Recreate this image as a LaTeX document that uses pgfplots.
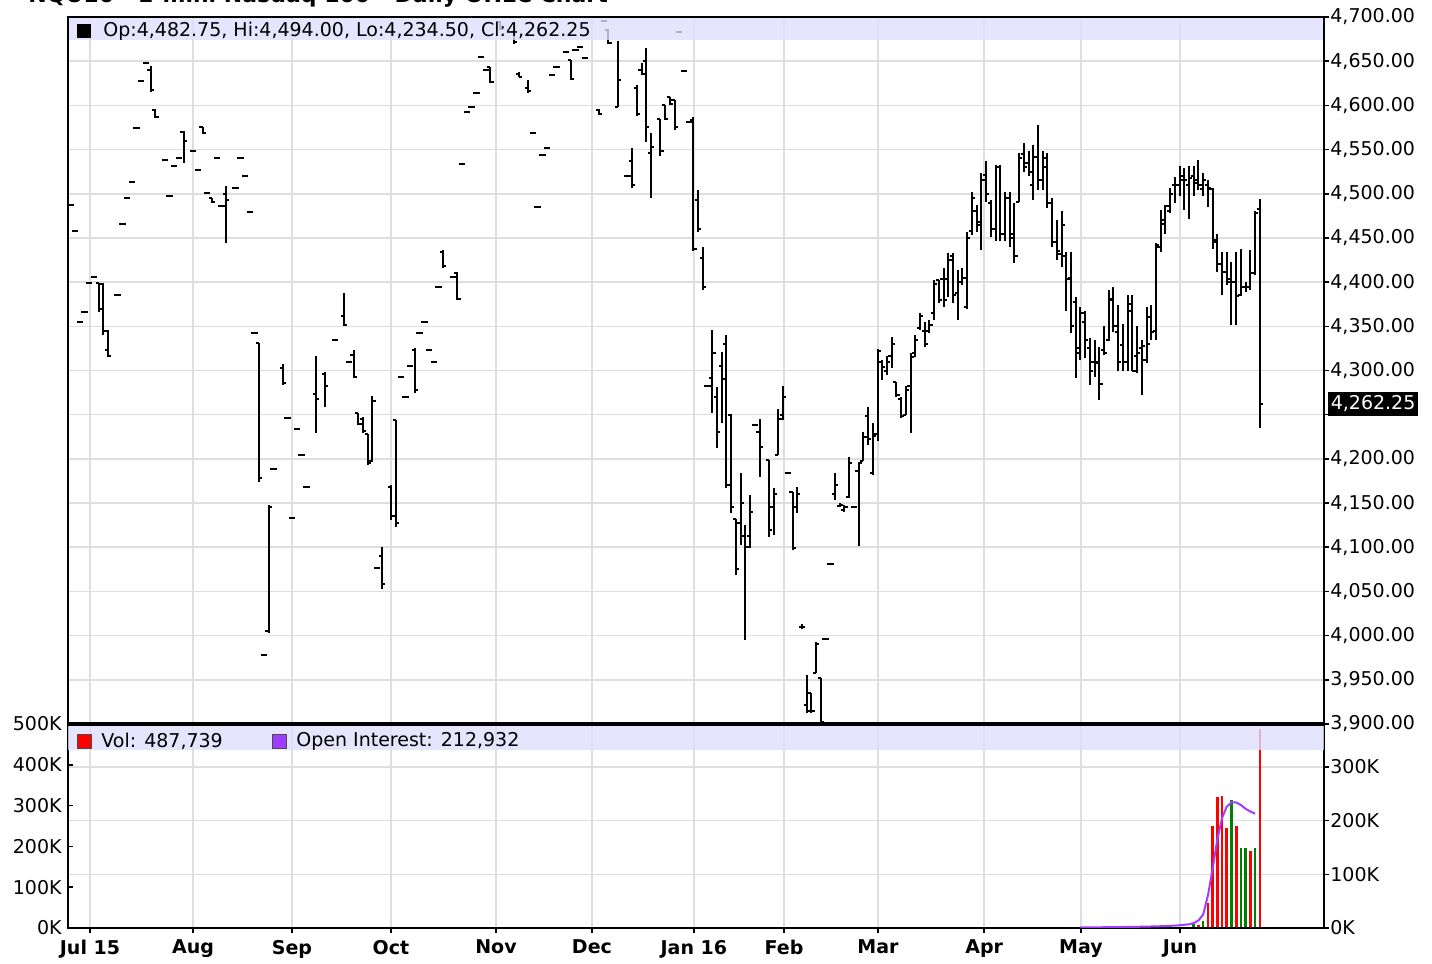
\documentclass[border=0pt]{standalone}
\usepackage{fontspec}
\setmainfont{DejaVu Sans}
\usepackage{pgfplots}
\usepackage{pgfplotstable}
\pgfplotsset{compat=1.18}

\definecolor{band}{RGB}{222,222,252}
\definecolor{gridc}{RGB}{222,222,222}
\definecolor{volred}{RGB}{255,0,0}
\definecolor{volgreen}{RGB}{0,128,0}
\definecolor{oipurple}{RGB}{160,60,255}

\pgfdeclareplotmark{ohlcopen}{%
  \pgfpathmoveto{\pgfqpoint{-1.6pt}{0pt}}%
  \pgfpathlineto{\pgfqpoint{0pt}{0pt}}%
  \pgfusepathqstroke}
\pgfdeclareplotmark{ohlcclose}{%
  \pgfpathmoveto{\pgfqpoint{0pt}{0pt}}%
  \pgfpathlineto{\pgfqpoint{1.6pt}{0pt}}%
  \pgfusepathqstroke}

\pgfplotstableread{
u o h l c
-5 4487 4487 4487 4487
-4 4458 4458 4458 4458
-3 4355 4355 4355 4355
-2 4366 4366 4366 4366
-1 4399 4399 4399 4399
0 4406 4406 4406 4406
1 4399 4399 4366 4370
2 4398 4399 4340 4345
3 4323 4346 4315 4316
5 4385 4385 4385 4385
6 4466 4466 4466 4466
7 4495 4495 4495 4495
8 4513 4513 4513 4513
9 4574 4574 4574 4574
10 4628 4628 4628 4628
11 4648 4648 4648 4648
12 4640 4645 4615 4617
13 4595 4596 4586 4587
15 4538 4538 4538 4538
16 4497 4497 4497 4497
17 4531 4531 4531 4531
18 4541 4541 4541 4541
19 4570 4571 4535 4560
21 4548 4548 4548 4548
22 4527 4527 4527 4527
23 4575 4576 4568 4569
24 4501 4501 4501 4501
25 4495 4495 4490 4491
26 4541 4541 4541 4541
27 4486 4486 4486 4486
28 4500 4509 4444 4493
30 4507 4507 4507 4507
31 4541 4541 4541 4541
32 4520 4520 4520 4520
33 4479 4479 4479 4479
34 4342 4342 4342 4342
35 4331 4331 4174 4178
36 3978 3978 3978 3978
37 4005 4148 4003 4145
38 4189 4189 4189 4189
40 4303 4307 4284 4286
41 4246 4246 4246 4246
42 4133 4133 4133 4133
43 4234 4234 4234 4234
44 4204 4204 4204 4204
45 4168 4168 4168 4168
47 4273 4316 4229 4268
49 4296 4298 4259 4282
51 4335 4335 4335 4335
53 4362 4388 4350 4352
54 4310 4310 4310 4310
55 4318 4323 4291 4293
56 4252 4252 4238 4240
57 4245 4247 4229 4232
58 4228 4228 4193 4195
59 4198 4271 4196 4265
60 4077 4077 4077 4077
61 4090 4100 4053 4058
63 4168 4170 4131 4135
64 4244 4244 4123 4128
65 4293 4293 4293 4293
66 4270 4270 4270 4270
67 4305 4305 4305 4305
68 4323 4325 4275 4278
69 4342 4342 4342 4342
70 4355 4355 4355 4355
71 4323 4323 4323 4323
72 4310 4310 4310 4310
73 4395 4395 4395 4395
74 4434 4436 4416 4418
76 4406 4406 4406 4406
77 4410 4411 4380 4381
78 4534 4534 4534 4534
79 4592 4592 4592 4592
80 4598 4598 4598 4598
81 4614 4614 4614 4614
82 4655 4655 4655 4655
83 4640 4640 4640 4640
84 4643 4643 4625 4626
86 4694 4695 4685 4686
89 4683 4685 4670 4672
90 4636 4638 4632 4632
92 4620 4629 4614 4616
93 4569 4569 4569 4569
94 4485 4485 4485 4485
95 4544 4544 4544 4544
96 4552 4552 4552 4552
97 4634 4634 4634 4634
98 4643 4643 4643 4643
100 4660 4660 4660 4660
101 4651 4651 4629 4630
102 4663 4663 4663 4663
103 4666 4666 4666 4666
104 4654 4654 4654 4654
107 4595 4596 4589 4590
108 4695 4695 4695 4695
109 4685 4686 4670 4671
111 4598 4673 4598 4629
113 4520 4520 4520 4520
114 4537 4552 4507 4510
115 4620 4623 4588 4590
116 4640 4648 4634 4636
117 4650 4665 4559 4575
118 4546 4569 4495 4553
120 4585 4585 4543 4548
121 4600 4600 4583 4585
122 4609 4609 4600 4602
123 4606 4606 4572 4575
124 4683 4683 4683 4683
125 4639 4639 4639 4639
126 4581 4581 4581 4581
127 4583 4587 4435 4437
128 4493 4504 4457 4460
129 4427 4440 4391 4395
130 4282 4282 4282 4282
131 4291 4346 4252 4320
132 4270 4281 4212 4230
133 4305 4321 4241 4290
134 4330 4340 4167 4170
135 4250 4251 4139 4145
136 4132 4132 4069 4075
137 4127 4184 4103 4150
138 4113 4125 3995 4100
139 4113 4159 4099 4140
140 4238 4238 4238 4238
141 4230 4245 4180 4214
143 4199 4199 4112 4120
144 4145 4167 4114 4160
145 4204 4256 4204 4245
146 4250 4282 4244 4270
147 4184 4184 4184 4184
148 4163 4163 4097 4099
149 4146 4168 4139 4160
150 4010 4013 4008 4010
151 3922 3956 3912 3915
152 3935 3935 3912 3915
153 3958 3993 3958 3990
154 3952 3952 3900 3902
155 3996 3996 3996 3996
156 4081 4081 4081 4081
157 4160 4184 4153 4170
158 4147 4150 4145 4148
159 4142 4148 4140 4146
160 4157 4202 4156 4195
161 4146 4146 4146 4146
162 4186 4196 4101 4195
163 4198 4230 4198 4225
164 4248 4259 4216 4222
165 4184 4241 4182 4226
166 4228 4324 4220 4322
167 4310 4312 4289 4304
168 4300 4316 4295 4310
169 4316 4338 4303 4330
170 4287 4287 4270 4272
171 4268 4270 4246 4248
172 4250 4282 4250 4278
173 4283 4320 4229 4315
174 4320 4340 4315 4335
175 4348 4365 4346 4362
176 4345 4355 4327 4330
177 4345 4357 4342 4352
178 4365 4402 4357 4398
179 4402 4402 4376 4380
180 4403 4416 4372 4380
181 4403 4433 4383 4425
182 4430 4433 4376 4385
183 4388 4414 4357 4400
184 4400 4416 4397 4405
185 4372 4457 4370 4450
186 4458 4502 4453 4495
187 4480 4487 4457 4465
188 4468 4523 4436 4515
189 4521 4537 4491 4500
190 4490 4493 4451 4460
191 4460 4533 4446 4530
192 4530 4533 4446 4455
193 4455 4502 4446 4495
194 4495 4502 4440 4450
195 4455 4490 4422 4430
196 4491 4546 4491 4540
197 4545 4557 4525 4530
198 4535 4548 4520 4525
199 4510 4555 4493 4542
200 4542 4578 4504 4515
201 4515 4548 4504 4540
202 4530 4546 4484 4490
203 4490 4495 4440 4445
204 4445 4470 4425 4435
205 4432 4480 4417 4465
206 4430 4434 4367 4404
207 4405 4434 4342 4350
208 4378 4383 4291 4320
209 4325 4372 4312 4365
210 4355 4367 4314 4335
211 4325 4337 4284 4300
212 4310 4335 4293 4310
213 4308 4327 4267 4285
214 4323 4350 4318 4320
215 4335 4391 4333 4381
216 4380 4395 4344 4350
217 4344 4374 4299 4310
218 4329 4353 4299 4310
219 4310 4385 4299 4375
220 4367 4385 4299 4300
221 4316 4350 4297 4320
222 4325 4335 4272 4328
223 4312 4372 4308 4330
224 4361 4374 4335 4344
225 4345 4444 4335 4442
226 4440 4482 4434 4466
227 4470 4487 4455 4486
228 4480 4506 4478 4500
229 4510 4519 4489 4510
230 4510 4531 4497 4516
231 4520 4529 4482 4515
232 4510 4531 4472 4518
233 4520 4531 4497 4512
234 4515 4538 4504 4510
235 4505 4523 4497 4516
236 4510 4516 4485 4506
237 4505 4506 4438 4445
238 4448 4455 4412 4420
239 4420 4434 4385 4412
240 4412 4434 4397 4400
241 4404 4423 4351 4400
242 4400 4434 4351 4384
243 4385 4438 4384 4395
244 4395 4400 4389 4395
245 4395 4436 4391 4410
246 4410 4480 4408 4478
247 4482.75 4494 4234.5 4262.25
}\ohlc

\pgfplotstableread{
u v
234 7
236 62
237 250
238 320
239 323
240 244
242 250
245 189
247 487.739
}\volr

\pgfplotstableread{
u v
233 10
235 17
241 314
243 195
244 195
246 195
}\volg

\pgfplotstableread{
u oi
209 1
215 1.5
220 2
225 3
228 4
230 5
231 6
232 7
233 9
234 14
235 25
236 60
237 110
238 165
239 205
240 226
241 234
242 234
243 229
244 222
245 217
246 212.932
}\oidata

\pgfplotsset{
  common/.style={
    scale only axis, width=628pt,
    xmin=-5.51, xmax=260.6,
    xtick={-0.85,20.97,41.95,62.92,85.17,105.5,127.1,146.2,166.1,188.6,209.1,230.1},
    axis line style={line width=0.9pt},
    grid style={gridc, line width=0.8pt},
    tick label style={font=\fontsize{9.5}{11}\selectfont},
    major tick length=2.5pt,
    tick style={black, line width=0.8pt},
  },
  nox/.style={xticklabels={,,,,,,,,,,,}, xtick style={draw=none}},
}

\begin{document}
\begin{tikzpicture}
% ---------------- price panel ----------------
\begin{axis}[common, nox, at={(0,102pt)}, anchor=south west, height=353.5pt,
  ymin=3900, ymax=4700,
  ytick={3900,3950,...,4700},
  yticklabels={{3,900.00},{3,950.00},{4,000.00},{4,050.00},{4,100.00},{4,150.00},{4,200.00},{},{4,300.00},{4,350.00},{4,400.00},{4,450.00},{4,500.00},{4,550.00},{4,600.00},{4,650.00},{4,700.00}},
  ytick pos=right, yticklabel pos=right, tick align=outside,
  xmajorgrids, ymajorgrids,
  yticklabel style={anchor=west, inner sep=0.5pt},
]
\addplot[black, line width=1pt, mark=none, quiver={u=0, v=\thisrow{h}-\thisrow{l}}] table[x=u, y=l] {\ohlc};
\addplot[only marks, mark=ohlcopen, mark options={line width=1pt, black}] table[x=u, y=o] {\ohlc};
\addplot[only marks, mark=ohlcclose, mark options={line width=1pt, black}] table[x=u, y=c] {\ohlc};
\coordinate (TLup) at (rel axis cs:0,1);
\coordinate (TRup) at (rel axis cs:1,1);
\coordinate (BLup) at (rel axis cs:0,0);
\coordinate (cp) at (axis cs:260.6,4262.25);
\end{axis}

% ---------------- volume panel ----------------
\begin{axis}[common, nox, at={(0,0)}, anchor=south west, height=102pt,
  ymin=0, ymax=500,
  ytick={0,100,...,500}, yticklabels={0K,100K,200K,300K,400K,500K},
  ytick pos=left, tick align=inside,
  xmajorgrids,
  extra y ticks={131.58,263.16,394.74}, extra y tick labels={},
  extra y tick style={grid=major, tick style={draw=none}},
  yticklabel style={anchor=east, inner sep=3pt},
]
\addplot[ycomb, volred, line width=1.3pt, mark=none] table[x=u, y=v] {\volr};
\addplot[ycomb, volgreen, line width=1.3pt, mark=none] table[x=u, y=v] {\volg};
\coordinate (TLvol) at (rel axis cs:0,1);
\coordinate (TRvol) at (rel axis cs:1,1);
\end{axis}

% ---------------- open interest axis ----------------
\begin{axis}[common, at={(0,0)}, anchor=south west, height=102pt,
  ymin=0, ymax=380,
  ytick={0,100,200,300}, yticklabels={0K,100K,200K,300K},
  ytick pos=right, yticklabel pos=right, xtick pos=bottom, tick align=outside,
  xticklabels={Jul 15,Aug,Sep,Oct,Nov,Dec,Jan 16,Feb,Mar,Apr,May,Jun},
  xticklabel style={font=\fontsize{9.5}{11}\selectfont\bfseries},
  yticklabel style={anchor=west, inner sep=0.5pt},
]
\addplot[oipurple, line width=1pt, mark=none] table[x=u, y=oi] {\oidata};
\end{axis}

% bands and legends
\fill[band, fill opacity=0.8] (TLup) rectangle ([yshift=-11.5pt]TRup);
\draw[line width=0.9pt] (BLup) rectangle (TRup);
\fill[black] ([xshift=4.5pt,yshift=-3.5pt]TLup) rectangle ++(7pt,-7pt);
\node[anchor=west, inner sep=0pt, font=\fontsize{9.5}{11}\selectfont] at ([xshift=17.5pt,yshift=-7pt]TLup) {Op:4,482.75, Hi:4,494.00, Lo:4,234.50, Cl:4,262.25};
\node[anchor=west, fill=black, text=white, inner xsep=1.2pt, inner ysep=2pt, font=\fontsize{9.5}{11}\selectfont] at ([xshift=2pt]cp) {4,262.25};

\fill[band, fill opacity=0.8] (TLvol) rectangle ([yshift=-13pt]TRvol);
\draw[line width=1.6pt] (TLvol) -- (TRvol);
\filldraw[fill=volred, draw=black!70, line width=0.4pt] ([xshift=4.5pt,yshift=-5pt]TLvol) rectangle ++(7pt,-7pt);
\node[anchor=west, inner sep=0pt, font=\fontsize{9.5}{11}\selectfont] at ([xshift=16.5pt,yshift=-8.5pt]TLvol) {Vol: 487,739};
\filldraw[fill=oipurple, draw=black!70, line width=0.4pt] ([xshift=102pt,yshift=-5pt]TLvol) rectangle ++(7pt,-7pt);
\node[anchor=west, inner sep=0pt, font=\fontsize{9.5}{11}\selectfont] at ([xshift=114pt,yshift=-8.5pt]TLvol) {Open Interest: 212,932};

% title (partly cut off at the top, as in the reference)
\node[anchor=base west, inner sep=0pt, font=\fontsize{11}{13}\selectfont\bfseries] at (-20pt,462.5pt) {NQU16 - E-mini Nasdaq 100 - Daily OHLC Chart};

\pgfresetboundingbox
\useasboundingbox (-34pt,-18pt) rectangle (682pt,464pt);
\end{tikzpicture}
\end{document}
